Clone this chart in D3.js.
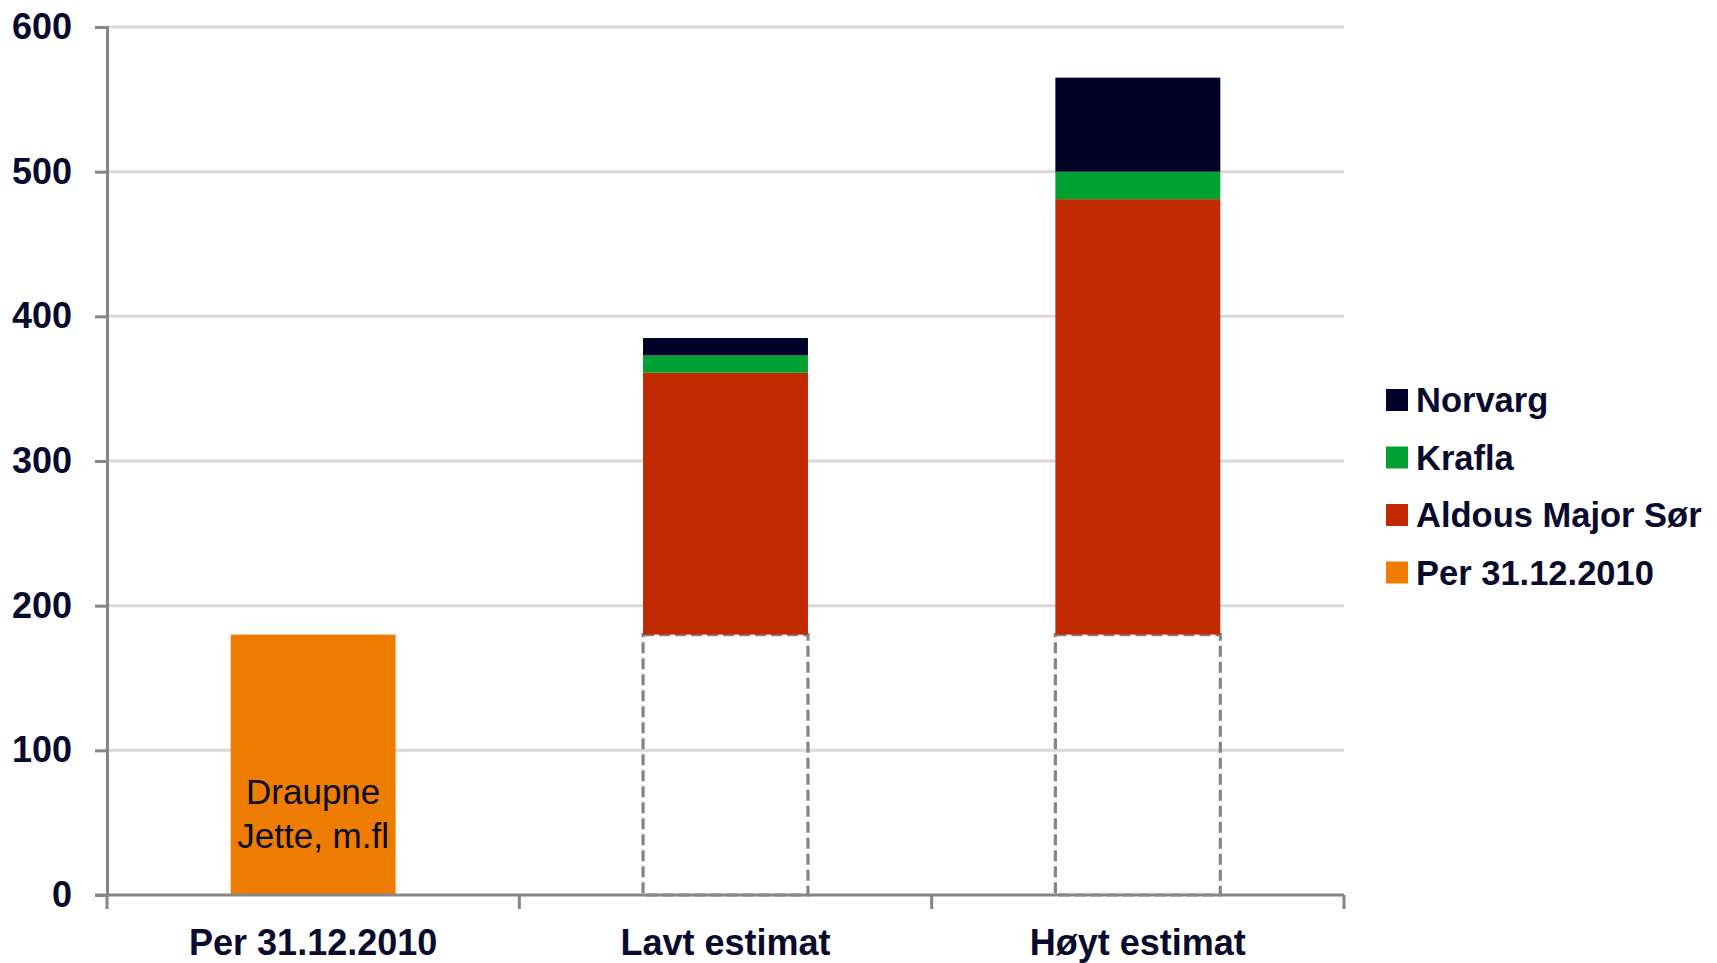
<!DOCTYPE html>
<html>
<head>
<meta charset="utf-8">
<script src="https://cdn.jsdelivr.net/npm/d3@7"></script>
<style>
    body { margin: 0; background: #fff; }
    svg text { font-family: "Liberation Sans", Arial, sans-serif; fill: #0a0a2e; }
</style>
</head>
<body>
<svg id="chart" width="1717" height="963"></svg>
<script>
(function()
{
    // data
    var categories = ['Per 31.12.2010', 'Lavt estimat', 'Høyt estimat'],
        existing = [180, 180, 180],
        aldous = [0, 181, 301],
        krafla = [0, 12, 19],
        norvarg = [0, 12, 65],
        yTicks = [0, 100, 200, 300, 400, 500, 600],
        legendNames = ['Norvarg', 'Krafla', 'Aldous Major Sør', 'Per 31.12.2010'],
        barNote = ['Draupne', 'Jette, m.fl'];

    var colors = {
        existing : '#ee7c00',
        aldous : '#c12a00',
        krafla : '#00a032',
        norvarg : '#000028'
    };

    var svg = d3.select('#chart'),
        left = 107, right = 1344, top = 27, bottom = 895;

    var y = d3.scaleLinear().domain([0, 600]).range([bottom, top]),
        xBand = d3.scaleBand().domain(categories).range([left, right]),
        x = d3.scaleBand().domain(categories).range([left, right]).paddingInner(0.6).paddingOuter(0.3);

    var rows = categories.map(function(c, i)
    {
        return {
            cat : c,
            existing : existing[i],
            aldous : aldous[i],
            krafla : krafla[i],
            norvarg : norvarg[i]
        };
    });

    var keys = ['existing', 'aldous', 'krafla', 'norvarg'],
        series = d3.stack().keys(keys)(rows);

    // gridlines
    svg.append('g').selectAll('line').data(yTicks.slice(1)).enter().append('line')
        .attr('x1', left).attr('x2', right)
        .attr('y1', y).attr('y2', y)
        .attr('stroke', '#d9d9d9').attr('stroke-width', 3);

    // bars
    series.forEach(function(s)
    {
        svg.append('g').selectAll('rect').data(s).enter().append('rect')
            .attr('x', function(d) { return x(d.data.cat); })
            .attr('width', x.bandwidth())
            .attr('y', function(d) { return y(d[1]); })
            .attr('height', function(d) { return y(d[0]) - y(d[1]); })
            .attr('fill', function(d, i)
            {
                if (s.key === 'existing' && i > 0) {
                    return 'none';
                }
                return colors[s.key];
            })
            .attr('stroke', function(d, i)
            {
                return (s.key === 'existing' && i > 0) ? '#858585' : 'none';
            })
            .attr('stroke-width', 3.2)
            .attr('stroke-dasharray', '11,5');
    });

    // label inside the orange bar
    svg.append('text')
        .attr('x', x(categories[0]) + x.bandwidth() / 2)
        .attr('y', 804)
        .attr('text-anchor', 'middle')
        .style('font-size', '35px')
        .selectAll('tspan').data(barNote).enter().append('tspan')
        .attr('x', x(categories[0]) + x.bandwidth() / 2)
        .attr('dy', function(d, i) { return i ? 44 : 0; })
        .text(function(d) { return d; });

    // y axis
    var yAxis = svg.append('g').attr('transform', 'translate(' + left + ',0)')
        .call(d3.axisLeft(y).tickValues(yTicks).tickSize(12).tickPadding(23));
    yAxis.select('.domain').attr('stroke', '#868686').attr('stroke-width', 3);
    yAxis.selectAll('.tick line').attr('stroke', '#868686').attr('stroke-width', 3);
    yAxis.selectAll('.tick text')
        .style('font-size', '36px').style('font-weight', 'bold')
        .style('font-family', '"Liberation Sans", Arial, sans-serif')
        .attr('fill', '#0a0a2e');

    // x axis
    svg.append('line')
        .attr('x1', left - 12).attr('x2', right)
        .attr('y1', bottom).attr('y2', bottom)
        .attr('stroke', '#868686').attr('stroke-width', 3);

    var bounds = categories.map(function(c) { return xBand(c); }).concat([right]);
    svg.append('g').selectAll('line').data(bounds).enter().append('line')
        .attr('x1', function(d) { return d; }).attr('x2', function(d) { return d; })
        .attr('y1', bottom).attr('y2', bottom + 14)
        .attr('stroke', '#868686').attr('stroke-width', 3);

    svg.append('g').selectAll('text').data(categories).enter().append('text')
        .attr('x', function(d) { return xBand(d) + xBand.bandwidth() / 2; })
        .attr('y', 955)
        .attr('text-anchor', 'middle')
        .style('font-size', '36px').style('font-weight', 'bold')
        .text(function(d) { return d; });

    // legend
    var legend = svg.append('g').attr('transform', 'translate(1386,389)'),
        legendKeys = ['norvarg', 'krafla', 'aldous', 'existing'];

    var item = legend.selectAll('g').data(legendNames).enter().append('g')
        .attr('transform', function(d, i) { return 'translate(0,' + (i * 57.5) + ')'; });

    item.append('rect')
        .attr('width', 22).attr('height', 22)
        .attr('fill', function(d, i) { return colors[legendKeys[i]]; });

    item.append('text')
        .attr('x', 30).attr('y', 23)
        .style('font-size', '34.5px').style('font-weight', 'bold')
        .text(function(d) { return d; });
})();
</script>
</body>
</html>
